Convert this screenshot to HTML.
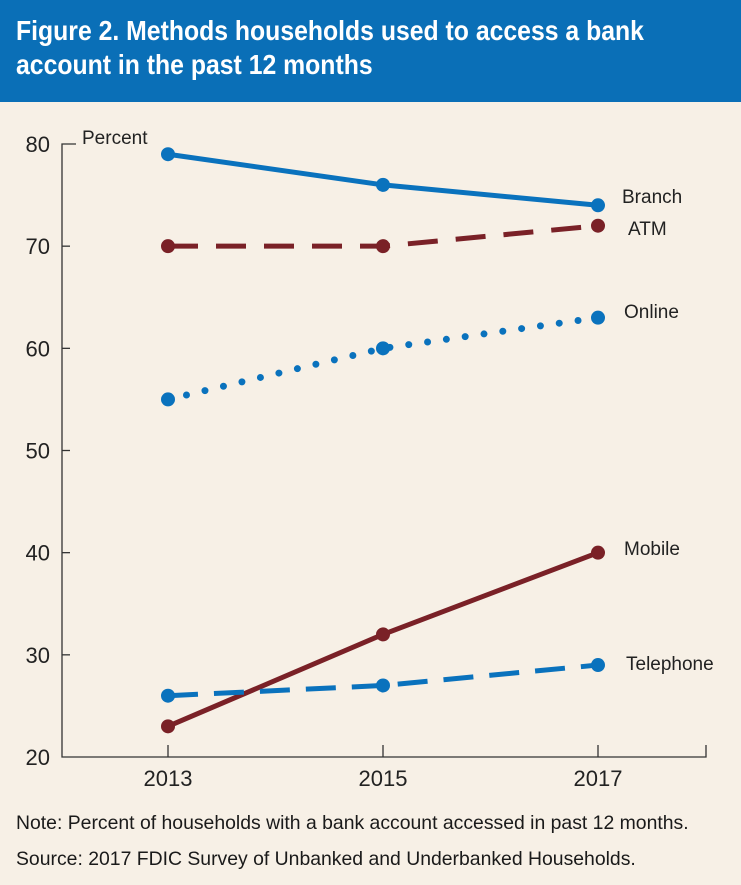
<!DOCTYPE html>
<html><head><meta charset="utf-8"><style>
body{margin:0;width:741px;height:885px;background:#f7f0e6;font-family:"Liberation Sans",sans-serif;overflow:hidden}
#hdr{position:absolute;left:0;top:0;width:741px;height:102px;background:#0a6fb7}
#ttl{position:absolute;left:16px;top:14px;color:#fff;font-weight:bold;font-size:28px;line-height:34px;transform:scaleX(0.885);transform-origin:0 0;white-space:nowrap}
.note{position:absolute;left:16px;font-size:19.4px;color:#1a1a1a;white-space:nowrap}
</style></head><body>
<div id="hdr"><div id="ttl">Figure 2. Methods households used to access a bank<br>account in the past 12 months</div></div>
<svg id="ch" width="741" height="885" style="position:absolute;left:0;top:0"></svg>
<div class="note" style="top:812px">Note: Percent of households with a bank account accessed in past 12 months.</div>
<div class="note" style="top:848px">Source: 2017 FDIC Survey of Unbanked and Underbanked Households.</div>
<script>
const years=[2013,2015,2017];
const yTicks=[20,30,40,50,60,70,80];
const seriesNames=["Branch","ATM","Online","Mobile","Telephone"];
const branch=[79,76,74];
const atm=[70,70,72];
const online=[55,60,63];
const mobile=[23,32,40];
const telephone=[26,27,29];
const NS="http://www.w3.org/2000/svg";
const svg=document.getElementById('ch');
const x=i=>168+i*215;
const y=v=>757-(v-20)*(613/60);
function mk(t,a,p){const e=document.createElementNS(NS,t);for(const k in a)e.setAttribute(k,a[k]);(p||svg).appendChild(e);return e;}
const ax=mk('path',{d:'M76 144H62V757H706V745',stroke:'#333',fill:'none','stroke-width':1.3});


yTicks.forEach(v=>{
 if(v<80&&v>20){const tk=mk('line',{x1:62,x2:70,y1:y(v),y2:y(v),stroke:'#333','stroke-width':1.3});
 
 }
 const t=mk('text',{x:50,y:y(v)+8,'text-anchor':'end','font-size':22,fill:'#222'});t.textContent=v;
 
 
});
const pl=mk('text',{x:82,y:144,'font-size':19,fill:'#222'});pl.textContent='Percent';


years.forEach((yr,i)=>{
 const tk=mk('line',{x1:x(i),x2:x(i),y1:745,y2:757,stroke:'#333','stroke-width':1.3});
 
 
 const t=mk('text',{x:x(i),y:786,'text-anchor':'middle','font-size':22,fill:'#222'});t.textContent=yr;
 
 
});
const blue='#0a72bd',red='#7a2127';
const styles=[[branch,blue,'',5],[atm,red,'30 18',5],[online,blue,'0 19',7],[mobile,red,'',5],[telephone,blue,'30 16',5]];
const labPos=[[622,203],[628,235],[624,318],[624,555],[626,670]];
styles.forEach((s,k)=>{
 const [d,c,dash,w]=s;
 const p=mk('path',{d:d.map((v,i)=>(i?'L':'M')+x(i)+' '+y(v)).join(''),stroke:c,fill:'none','stroke-width':w,'stroke-dasharray':dash,'stroke-linecap':dash.startsWith('0')?'round':'butt'});
 
 
 d.forEach((v,i)=>{const m=mk('circle',{cx:x(i),cy:y(v),r:7,fill:c});
  
  });
 const t=mk('text',{x:labPos[k][0],y:labPos[k][1],'font-size':19,fill:'#222'});t.textContent=seriesNames[k];
 
 
});
</script>
</body></html>
